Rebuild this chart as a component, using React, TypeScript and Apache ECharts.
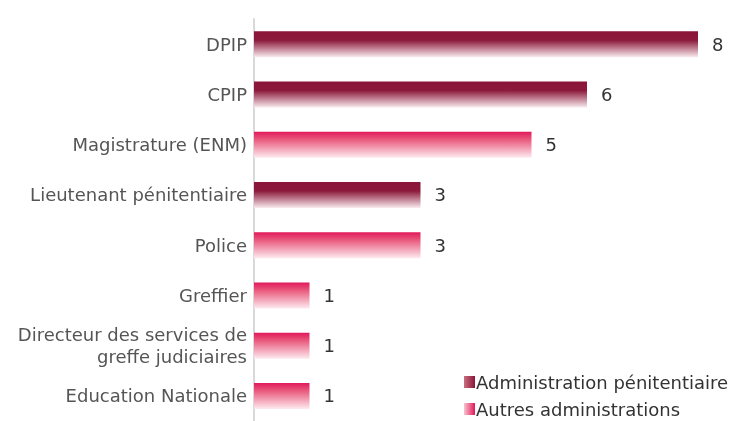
import React, { useEffect, useRef } from "react";
import * as echarts from "echarts";

const categories = [
  "DPIP",
  "CPIP",
  "Magistrature (ENM)",
  "Lieutenant pénitentiaire",
  "Police",
  "Greffier",
  "Directeur des services de\ngreffe judiciaires",
  "Education Nationale",
];
const seriesNames = ["Administration pénitentiaire", "Autres administrations"];
const penitentiaire = [8, 6, null, 3, null, null, null, null];
const autres = [null, null, 5, null, 3, 1, 1, 1];

const FONT = "DejaVu Sans";

export default function App() {
  const ref = useRef<HTMLDivElement>(null);
  useEffect(() => {
    if (!ref.current) return;
    const chart = echarts.init(ref.current, undefined, { renderer: "svg" });
    const darkGrad = new echarts.graphic.LinearGradient(0, 0, 0, 1, [
      { offset: 0, color: "#8A1538" },
      { offset: 0.35, color: "#8C1A3C" },
      { offset: 1, color: "#F8EAEE" },
    ]);
    const pinkGrad = new echarts.graphic.LinearGradient(0, 0, 0, 1, [
      { offset: 0, color: "#E1185A" },
      { offset: 0.3, color: "#E9587C" },
      { offset: 1, color: "#FDEAEF" },
    ]);
    const darkLeg = new echarts.graphic.LinearGradient(0, 0, 1, 0, [
      { offset: 0, color: "#C9707F" },
      { offset: 1, color: "#8A1538" },
    ]);
    const pinkLeg = new echarts.graphic.LinearGradient(0, 0, 1, 0, [
      { offset: 0, color: "#F7C4CF" },
      { offset: 1, color: "#E1185A" },
    ]);
    const labelCfg = {
      show: true,
      position: "right" as const,
      distance: 14,
      color: "#333333",
      fontSize: 18,
      fontFamily: FONT,
    };
    chart.setOption({
      animation: false,
      grid: { left: 254, right: 49, top: 19, bottom: -3, containLabel: false },
      legend: {
        orient: "vertical",
        left: 464,
        top: 373,
        height: 100,
        padding: 0,
        itemWidth: 11,
        itemHeight: 12,
        itemGap: 9,
        icon: "rect",
        textStyle: { fontFamily: FONT, fontSize: 18, color: "#333333", padding: [0, 0, 0, -4] },
        data: [
          { name: seriesNames[0], itemStyle: { color: darkLeg } },
          { name: seriesNames[1], itemStyle: { color: pinkLeg } },
        ],
      },
      xAxis: {
        type: "value",
        min: 0,
        max: 8,
        show: false,
        splitLine: { show: false },
      },
      yAxis: {
        type: "category",
        inverse: true,
        data: categories,
        axisLine: { show: true, lineStyle: { color: "#D9D9D9", width: 2 } },
        axisTick: { show: false },
        axisLabel: {
          fontFamily: FONT,
          fontSize: 18,
          color: "#555555",
          margin: 7,
          lineHeight: 22,
          align: "right",
        },
      },
      series: [
        {
          name: seriesNames[0],
          type: "bar",
          stack: "t",
          data: penitentiaire,
          barWidth: 26,
          itemStyle: { color: darkGrad },
          label: labelCfg,
        },
        {
          name: seriesNames[1],
          type: "bar",
          stack: "t",
          data: autres,
          barWidth: 26,
          itemStyle: { color: pinkGrad },
          label: labelCfg,
        },
      ],
    });
    return () => chart.dispose();
  }, []);
  return (
    <div style={{ position: "fixed", left: 0, top: 0 }}>
      <div ref={ref} style={{ width: 747, height: 421 }} />
    </div>
  );
}
